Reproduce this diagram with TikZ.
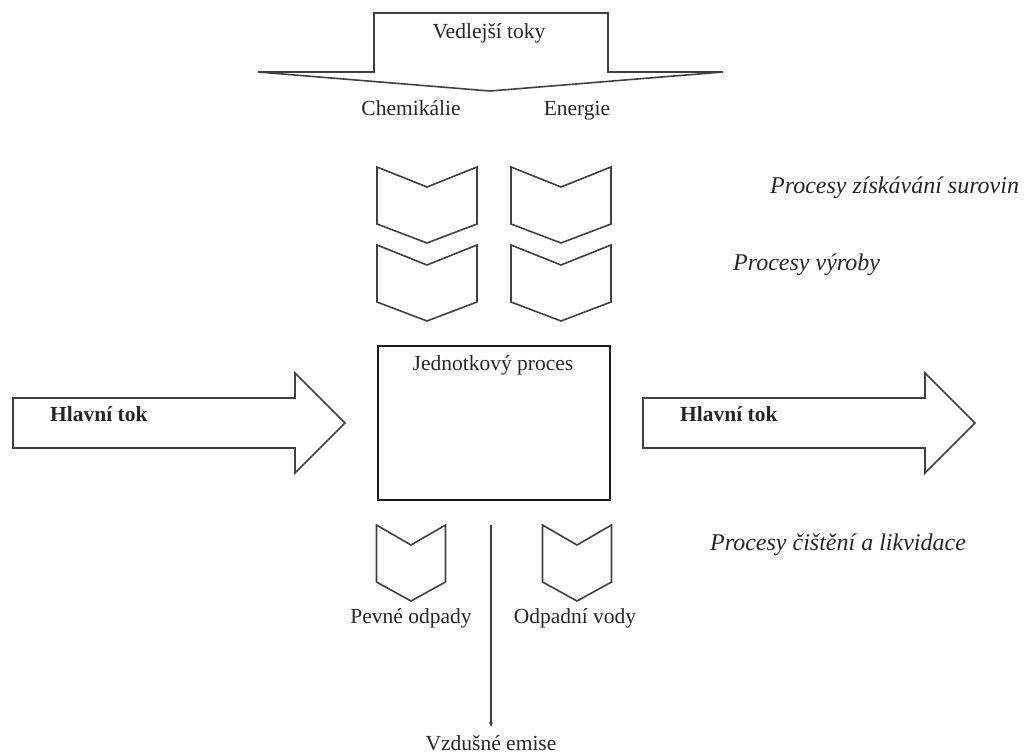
\documentclass[tikz,border=0pt]{standalone}
\usepackage{fontspec}
\setmainfont{Liberation Serif}
\usetikzlibrary{arrows.meta}
\begin{document}
\begin{tikzpicture}[x=1pt,y=-1pt,
  outline/.style={draw=black!75,line width=1.6pt,line join=miter,fill=white},
  lbl/.style={font=\fontsize{21.5}{24}\selectfont,text=black!85,inner sep=0pt,anchor=base},
  bold/.style={lbl,font=\fontsize{21.5}{24}\selectfont\bfseries,anchor=base west},
  side/.style={font=\fontsize{24}{27}\selectfont\itshape,text=black!85,inner sep=0pt,anchor=base west},
  chevron/.pic={
    \draw[outline] (-#1,0) -- (0,20) -- (#1,0) -- (#1,57) -- (0,76) -- (-#1,57) -- cycle;
  }]
\useasboundingbox (0,0) rectangle (1024,753);

% side-flow banner
\draw[outline] (374,13) -- (608,13) -- (608,72) -- (723,72) -- (490,91) -- (258,72) -- (374,72) -- cycle;
\node[lbl] (side) at (489,38) {Vedlejší toky};
\node[lbl] (chem) at (411,115) {Chemikálie};
\node[lbl] (ener) at (577,115) {Energie};

% supply chevrons
\pic at (427,167) {chevron=50};
\pic at (561,167) {chevron=50};
\pic at (427,245) {chevron=50};
\pic at (561,245) {chevron=50};

% unit process
\node[draw=black!90,line width=2.6pt,minimum width=232pt,minimum height=154pt,inner sep=0pt] (unit) at (494,423) {};
\node[lbl] (unitlbl) at (493,370) {Jednotkový proces};

% main flow arrows
\draw[outline] (13,398) -- (295,398) -- (295,373) -- (345,423) -- (295,473) -- (295,448) -- (13,448) -- cycle;
\node[bold] (inflow) at (50,421) {Hlavní tok};
\draw[outline] (643,398) -- (925,398) -- (925,373) -- (975,423) -- (925,473) -- (925,448) -- (643,448) -- cycle;
\node[bold] (outflow) at (680,421) {Hlavní tok};

% waste chevrons
\pic at (411,525) {chevron=34.5};
\pic at (577,525) {chevron=34.5};
\node[lbl] (solid) at (411,623) {Pevné odpady};
\node[lbl] (water) at (575,623) {Odpadní vody};

% air emissions
\coordinate (airtop) at (491,525);
\coordinate (airend) at (491,727);
\node[lbl] (air) at (491,750) {Vzdušné emise};
\draw[black!75,line width=1.2pt,-{Stealth[length=5pt,width=4pt]}] (airtop) -- (airend);

% process-level notes
\node[side] (raw) at (770,193) {Procesy získávání surovin};
\node[side] (prod) at (733,270) {Procesy výroby};
\node[side] (clean) at (710,550) {Procesy čištění a likvidace};
\end{tikzpicture}
\end{document}
